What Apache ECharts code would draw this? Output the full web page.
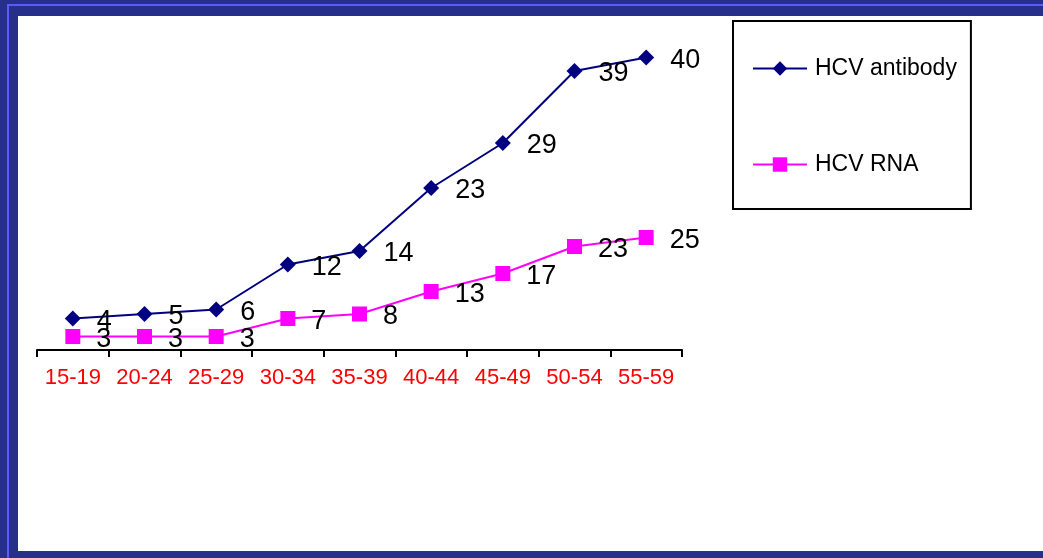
<!DOCTYPE html>
<html>
<head>
<meta charset="utf-8">
<script src="https://cdn.jsdelivr.net/npm/echarts@6/dist/echarts.min.js"></script>
<style>
  html, body { margin: 0; padding: 0; width: 1043px; height: 558px; overflow: hidden; background: #26308a; }
  .rule { position: absolute; left: 7px; top: 4px; right: -10px; bottom: -10px; border: 2px solid #5a5aff; }
  .sheet { position: absolute; left: 18px; top: 16px; right: 0; bottom: 7px; background: #fff; }
  #chart { position: absolute; left: 0; top: 0; width: 1043px; height: 558px; }
</style>
</head>
<body>
<div class="rule"></div>
<div class="sheet"></div>
<div id="chart"></div>
<script>
const ageGroups = ["15-19", "20-24", "25-29", "30-34", "35-39", "40-44", "45-49", "50-54", "55-59"]
const antibody = [4, 5, 6, 12, 14, 23, 29, 39, 40]
const rna = [3, 3, 3, 7, 8, 13, 17, 23, 25]

const font = "Liberation Sans, Arial, sans-serif"
const chart = echarts.init(document.getElementById("chart"))

// labels sit right of the marker, a touch below its centre
const pointLabel = {
  show: true,
  position: "right",
  distance: 16,
  offset: [0, 3],
  color: "#000",
  fontSize: 27,
  fontFamily: font,
}

chart.setOption({
  backgroundColor: "transparent",
  animation: false,
  textStyle: { fontFamily: font },
  grid: { left: 37, right: 361, top: 35, bottom: 208 },
  legend: {
    data: ["HCV antibody", "HCV RNA"],
    orient: "vertical",
    left: 733,
    top: 21,
    padding: [36, 14, 33, 19],
    itemGap: 73,
    itemWidth: 54,
    itemHeight: 18,
    borderColor: "#000",
    borderWidth: 2,
    textStyle: { fontSize: 23, color: "#000", fontFamily: font, padding: [0, 0, 0, 3] },
  },
  xAxis: {
    type: "category",
    data: ageGroups,
    boundaryGap: true,
    axisLine: { lineStyle: { color: "#000", width: 2 } },
    axisTick: { show: true, length: 7, lineStyle: { color: "#000", width: 2 } },
    axisLabel: { color: "#ff0000", fontSize: 22, fontFamily: font, margin: 17, interval: 0 },
  },
  yAxis: {
    type: "value",
    min: 0,
    max: 70,
    show: false,
    splitLine: { show: false },
  },
  series: [
    {
      name: "HCV RNA",
      type: "line",
      stack: "total",
      data: rna,
      symbol: "rect",
      symbolSize: 15,
      color: "#ff00ff",
      lineStyle: { color: "#ff00ff", width: 2 },
      itemStyle: { color: "#ff00ff" },
      label: pointLabel,
    },
    {
      name: "HCV antibody",
      type: "line",
      stack: "total",
      data: antibody,
      symbol: "diamond",
      symbolSize: 16,
      color: "#000080",
      lineStyle: { color: "#000080", width: 2 },
      itemStyle: { color: "#000080" },
      label: pointLabel,
    },
  ],
})
</script>
</body>
</html>
